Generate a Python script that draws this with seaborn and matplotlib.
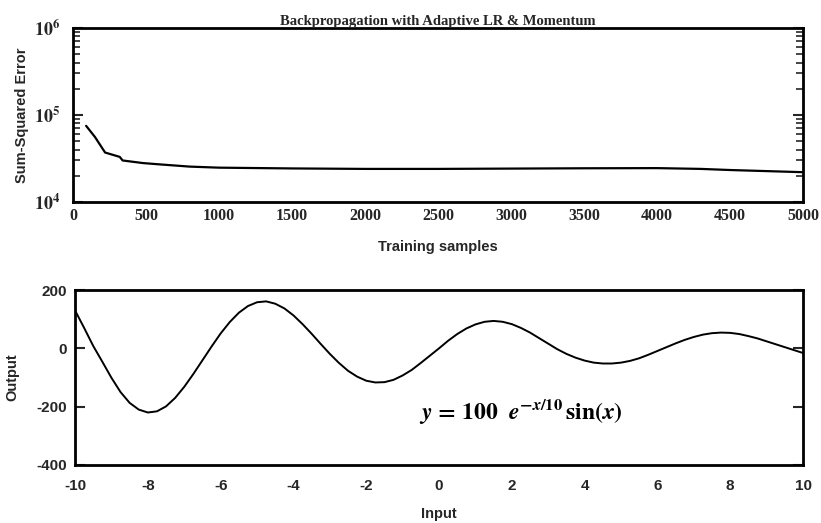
import numpy as np
import pandas as pd
import matplotlib
matplotlib.use("Agg")
import matplotlib.pyplot as plt
import seaborn as sns
from matplotlib.ticker import LogLocator, NullFormatter, FixedLocator

# ---- data ----
train_samples = [90, 150, 220, 320, 340, 480, 600, 800, 1000, 1500, 2000,
                 2500, 3000, 3500, 4000, 4300, 4500, 5000]
sse = [75000, 56000, 37000, 33000, 30000, 28000, 27000, 25500, 24800, 24300,
       24000, 24000, 24200, 24400, 24500, 24000, 23300, 22000]

net_input = [-10.0, -9.75, -9.5, -9.25, -9.0, -8.75, -8.5, -8.25, -8.0, -7.75,
             -7.5, -7.25, -7.0, -6.75, -6.5, -6.25, -6.0, -5.75, -5.5, -5.25,
             -5.0, -4.75, -4.5, -4.25, -4.0, -3.75, -3.5, -3.25, -3.0, -2.75,
             -2.5, -2.25, -2.0, -1.75, -1.5, -1.25, -1.0, -0.75, -0.5, -0.25,
             0.0, 0.25, 0.5, 0.75, 1.0, 1.25, 1.5, 1.75, 2.0, 2.25,
             2.5, 2.75, 3.0, 3.25, 3.5, 3.75, 4.0, 4.25, 4.5, 4.75,
             5.0, 5.25, 5.5, 5.75, 6.0, 6.25, 6.5, 6.75, 7.0, 7.25,
             7.5, 7.75, 8.0, 8.25, 8.5, 8.75, 9.0, 9.25, 9.5, 9.75, 10.0]
net_output = [130, 70, 8, -46, -101, -150, -187, -210, -220, -216,
              -199, -170, -132, -88, -41, 6, 51, 90, 122, 145,
              158, 161, 153, 137, 113, 83, 50, 15, -19, -50,
              -77, -97, -111, -117, -116, -108, -93, -74, -50, -25,
              0, 26, 49, 68, 82, 91, 94, 91, 83, 70,
              54, 35, 16, -3, -19, -32, -42, -49, -52, -52,
              -49, -43, -34, -22, -9, 4, 17, 29, 39, 47,
              52, 54, 53, 49, 42, 34, 24, 14, 4, -6, -16]

top_xticks = [0, 500, 1000, 1500, 2000, 2500, 3000, 3500, 4000, 4500, 5000]
top_yticks = [1e4, 1e5, 1e6]
top_ylabels = [r"$\mathbf{10^{4}}$", r"$\mathbf{10^{5}}$", r"$\mathbf{10^{6}}$"]
bot_xticks = [-10, -8, -6, -4, -2, 0, 2, 4, 6, 8, 10]
bot_yticks = [-400, -200, 0, 200]

title = "Backpropagation with Adaptive LR & Momentum"
equation = (r"$\mathbfit{y}\mathbf{\,=\,100}\ \ \mathbfit{e}^{\mathbf{-}\mathbfit{x}"
            r"\mathbf{/10}}\,\mathbf{sin(}\mathbfit{x}\mathbf{)}$")

df_top = pd.DataFrame({"samples": train_samples, "sse": sse})
df_bot = pd.DataFrame({"input": net_input, "output": net_output})

sns.set_theme(style="ticks")
plt.rcParams["font.family"] = ["Liberation Serif", "DejaVu Serif"]
plt.rcParams["mathtext.fontset"] = "stix"

fig = plt.figure(figsize=(8.21, 5.23), dpi=100)
fig.patch.set_facecolor("white")

ax1 = fig.add_axes([0.0889, 0.6138, 0.8892, 0.3327])
ax2 = fig.add_axes([0.0914, 0.1109, 0.8867, 0.3346])

for ax in (ax1, ax2):
    ax.set_facecolor("white")
    for sp in ax.spines.values():
        sp.set_visible(True)
        sp.set_linewidth(2.0)
        sp.set_color("black")

# ---- top panel ----
sns.lineplot(data=df_top, x="samples", y="sse", ax=ax1, color="black",
             linewidth=1.6, estimator=None)
ax1.set_yscale("log")
ax1.set_xlim(0, 5000)
ax1.set_ylim(1e4, 1e6)
ax1.xaxis.set_major_locator(FixedLocator(top_xticks))
ax1.set_xticklabels([str(t) for t in top_xticks], fontsize=11.5, fontweight="bold",
                    family="Liberation Serif")
ax1.set_yticks(top_yticks)
ax1.set_yticklabels(top_ylabels, fontsize=13)
ax1.yaxis.set_minor_locator(LogLocator(base=10, subs=np.arange(2, 10)))
ax1.yaxis.set_minor_formatter(NullFormatter())
ax1.tick_params(axis="x", which="both", length=0, pad=4)
ax1.tick_params(axis="y", which="major", direction="in", length=7, width=1.5,
                left=True, right=True, pad=9)
ax1.tick_params(axis="y", which="minor", direction="in", length=5, width=1.2,
                left=True, right=True)
ax1.set_xlabel("Training samples", fontsize=10.5, fontweight="bold",
               family="Liberation Sans", labelpad=12)
ax1.set_ylabel("Sum-Squared Error", fontsize=10.5, fontweight="bold",
               family="Liberation Sans", labelpad=4)
ax1.set_title(title, fontsize=10.5, fontweight="bold", pad=1,
              family="Liberation Serif")

# ---- bottom panel ----
sns.lineplot(data=df_bot, x="input", y="output", ax=ax2, color="black",
             linewidth=1.4, estimator=None)
ax2.set_xlim(-10, 10)
ax2.set_ylim(-400, 200)
ax2.set_xticks(bot_xticks)
ax2.set_xticklabels([str(t) for t in bot_xticks], fontsize=11, fontweight="bold",
                    family="Liberation Sans")
ax2.set_yticks(bot_yticks)
ax2.set_yticklabels([str(t) for t in bot_yticks], fontsize=11, fontweight="bold",
                    family="Liberation Sans")
ax2.tick_params(axis="x", length=0, pad=10)
ax2.tick_params(axis="y", direction="in", length=7, width=1.5,
                left=True, right=True, pad=6)
ax2.set_xlabel("Input", fontsize=10.5, fontweight="bold",
               family="Liberation Sans", labelpad=10)
ax2.set_ylabel("Output", fontsize=10.5, fontweight="bold",
               family="Liberation Sans", labelpad=12)
ax2.text(-0.55, -215, equation, fontsize=17, ha="left", va="center",
         color="black")

fig.savefig("out.png", dpi=100, facecolor="white")
